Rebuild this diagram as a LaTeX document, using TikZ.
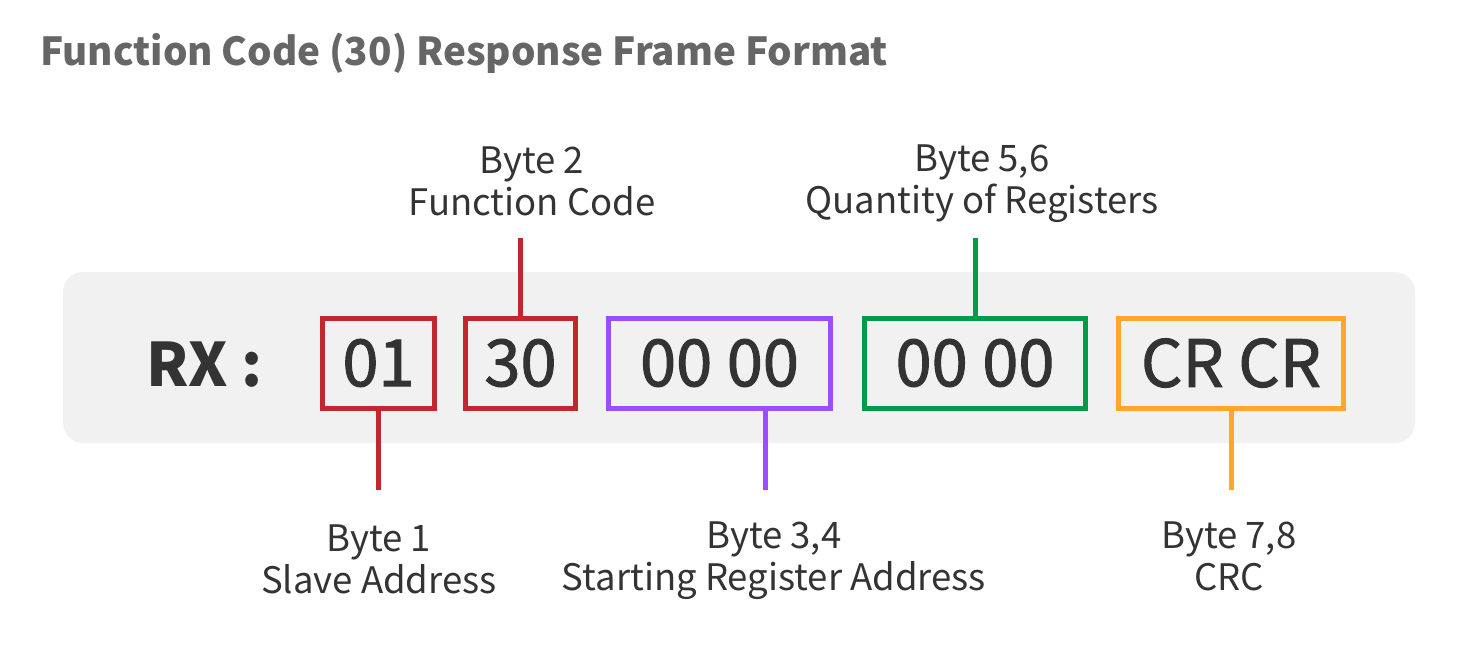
\documentclass[tikz,border=0pt]{standalone}
\usepackage{fontspec}
\setmainfont{Noto Sans CJK SC}
\newfontfamily\medfont[FakeBold=1.5]{Noto Sans CJK SC}
\definecolor{titlegray}{HTML}{666666}
\definecolor{txt}{HTML}{333333}
\definecolor{bg}{HTML}{F1F1F1}
\definecolor{cred}{HTML}{C1272D}
\definecolor{cpurple}{HTML}{9B4DFF}
\definecolor{cgreen}{HTML}{009B48}
\definecolor{corange}{HTML}{FFA62B}
\begin{document}
\begin{tikzpicture}[x=1pt,y=-1pt,
  field/.style={draw, line width=5pt, minimum height=90pt, inner sep=0pt, text=txt,
    font=\medfont\fontsize{65}{65}\selectfont},
  lead/.style={line width=5pt},
  lbl/.style={text=txt, align=center, font=\fontsize{36.5}{42}\selectfont, inner sep=0pt}]
\useasboundingbox (0,0) rectangle (1478,650);
\fill[bg, rounded corners=20pt] (63,272) rectangle (1415,443);
\node[anchor=west, text=titlegray, font=\bfseries\fontsize{38.6}{40}\selectfont, inner sep=0pt] (title) at (40,53) {Function Code (30) Response Frame Format};
\node[anchor=west, text=txt, font=\bfseries\fontsize{60}{60}\selectfont, inner sep=0pt] (rx) at (146,365) {RX\hspace{14pt}:};
\node[field, draw=cred, minimum width=112pt] (b1) at (378.5,363) {01};
\node[field, draw=cred, minimum width=110pt] (b2) at (520.5,363) {30};
\node[field, draw=cpurple, minimum width=222pt] (b3) at (719.5,363) {00 00};
\node[field, draw=cgreen, minimum width=221pt] (b4) at (975,363) {00 00};
\node[field, draw=corange, minimum width=225pt] (b5) at (1231,363) {CR CR};
\coordinate (t2) at (520.5,238);
\coordinate (t4) at (975,238);
\coordinate (t1) at (378.5,490);
\coordinate (t3) at (765,490);
\coordinate (t5) at (1231,490);
\draw[lead, cred] (b2.north) -- (t2);
\draw[lead, cgreen] (b4.north) -- (t4);
\draw[lead, cred] (b1.south) -- (t1);
\draw[lead, cpurple] (b3.south -| t3) -- (t3);
\draw[lead, corange] (b5.south) -- (t5);
\node[lbl] (l2) at (532,181) {Byte 2\\Function Code};
\node[lbl] (l4) at (982,184) {Byte 5,6\\Quantity of Registers};
\node[lbl] (l1) at (379,559) {Byte 1\\Slave Address};
\node[lbl] (l3) at (774,561) {Byte 3,4\\Starting Register Address};
\node[lbl] (l5) at (1229,556) {Byte 7,8\\CRC};
\end{tikzpicture}
\end{document}
